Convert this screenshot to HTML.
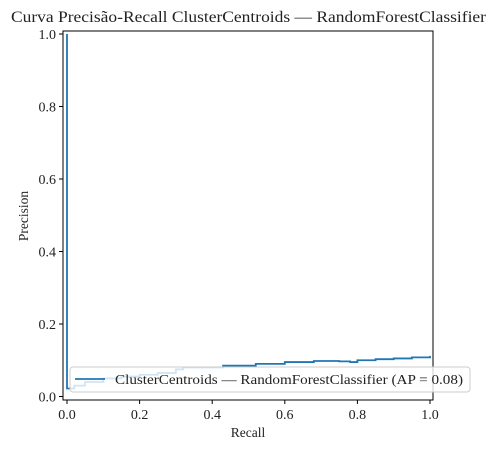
<!DOCTYPE html>
<html><head><meta charset="utf-8"><style>
body{margin:0;background:#fff;}
svg text{font-family:"Liberation Serif","DejaVu Serif",serif;fill:#222;}
</style></head><body>
<svg width="496" height="449" viewBox="0 0 496 449">
<text x="11" y="22" font-size="15.5" textLength="475" lengthAdjust="spacingAndGlyphs">Curva Precisão-Recall ClusterCentroids — RandomForestClassifier</text>
<g id="ticks"></g>
<polyline id="curve" fill="none" stroke="#1f77b4" stroke-width="1.8"/>
<rect x="63" y="31" width="370" height="369" fill="none" stroke="#000" stroke-width="1"/>
<text x="248" y="437" font-size="13.5" text-anchor="middle">Recall</text>
<text transform="translate(28,216) rotate(-90)" font-size="13.5" text-anchor="middle">Precision</text>
<g>
<rect x="70" y="367" width="400" height="25" rx="3" fill="#fff" fill-opacity="0.8" stroke="#ccc"/>
<line x1="75" y1="379" x2="105" y2="379" stroke="#1f77b4" stroke-width="1.8"/>
<text x="115" y="384" font-size="13.5" textLength="348" lengthAdjust="spacingAndGlyphs">ClusterCentroids — RandomForestClassifier (AP = 0.08)</text>
</g>
</svg>
<script>
const recall=[0,0,0.02,0.05,0.1,0.15,0.2,0.25,0.3,0.32,0.4,0.43,0.52,0.6,0.68,0.75,0.78,0.8,0.85,0.9,0.95,1.0];
const precision=[1.0,0.022,0.03,0.04,0.05,0.055,0.06,0.065,0.075,0.08,0.08,0.085,0.09,0.095,0.098,0.097,0.095,0.1,0.103,0.105,0.108,0.112];
const xTicks=[0,0.2,0.4,0.6,0.8,1.0];
const yTicks=[0,0.2,0.4,0.6,0.8,1.0];
const X=v=>67+v*363, Y=v=>396.5-v*362.5;
let pts=[];
for(let i=0;i<recall.length;i++){
  if(i>0) pts.push(X(recall[i])+','+Y(precision[i-1]));
  pts.push(X(recall[i])+','+Y(precision[i]));
}
document.getElementById('curve').setAttribute('points',pts.join(' '));
const g=document.getElementById('ticks'),ns='http://www.w3.org/2000/svg';
xTicks.forEach(t=>{
  const l=document.createElementNS(ns,'line');
  l.setAttribute('x1',X(t));l.setAttribute('x2',X(t));l.setAttribute('y1',400);l.setAttribute('y2',404);l.setAttribute('stroke','#000');
  
  
  g.appendChild(l);
  const s=document.createElementNS(ns,'text');
  s.setAttribute('x',X(t));s.setAttribute('y',419);s.setAttribute('font-size','14');s.setAttribute('text-anchor','middle');
  s.textContent=t.toFixed(1);
  
  
  g.appendChild(s);
});
yTicks.forEach(t=>{
  const l=document.createElementNS(ns,'line');
  l.setAttribute('x1',59);l.setAttribute('x2',63);l.setAttribute('y1',Y(t));l.setAttribute('y2',Y(t));l.setAttribute('stroke','#000');
  
  
  g.appendChild(l);
  const s=document.createElementNS(ns,'text');
  s.setAttribute('x',56);s.setAttribute('y',Y(t)+5);s.setAttribute('font-size','14');s.setAttribute('text-anchor','end');
  s.textContent=t.toFixed(1);
  
  
  g.appendChild(s);
});
</script>
</body></html>
